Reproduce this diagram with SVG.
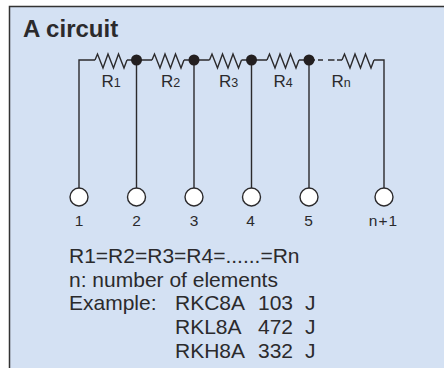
<svg xmlns="http://www.w3.org/2000/svg" width="444" height="368" viewBox="0 0 444 368">
<style>
text{font-family:"Liberation Sans",Arial,sans-serif;fill:#2b2a2c}
.w{fill:none;stroke:#2b2a2c;stroke-width:1.4}
.d{fill:#231f20}
.t{fill:#fff;stroke:#2b2a2c;stroke-width:1.4}
.l{font-size:17px}
.s{font-size:12.5px}
.n{font-size:15.5px;text-anchor:middle}
.b{font-size:21px}
</style>
<defs>
<path id="zig" class="w" d="M0 0L2.500 -6L8 8L13 -6L18.500 8L23.500 -6L29 8L32 0"/>
</defs>
<rect id="panel" x="9.500" y="6.500" width="436" height="363" fill="#d4e1f3" stroke="#333" stroke-width="1.500"/>
<text id="title" x="23" y="37" font-size="24" font-weight="bold">A circuit</text>
<g id="connectors">
<path class="w" d="M79 188V60H95M127 60H152M184 60H209.500M241.500 60H267M299 60H315M318 60H323M328 60H334.500M337 60H342M374 60H384V188"/>
<path class="w" d="M136.500 60V188M194 60V188M251.500 60V188M309 60V188"/>
<use href="#zig" x="95" y="60"/>
<use href="#zig" x="152" y="60"/>
<use href="#zig" x="209.500" y="60"/>
<use href="#zig" x="267" y="60"/>
<use href="#zig" x="342" y="60"/>
</g>
<g id="j2"><circle class="d" cx="136.500" cy="60" r="5.500"/></g>
<g id="j3"><circle class="d" cx="194" cy="60" r="5.500"/></g>
<g id="j4"><circle class="d" cx="251.500" cy="60" r="5.500"/></g>
<g id="j5"><circle class="d" cx="309" cy="60" r="5.500"/></g>
<g id="r1"><text class="l" x="101.500" y="87">R<tspan class="s">1</tspan></text></g>
<g id="r2"><text class="l" x="161" y="87">R<tspan class="s">2</tspan></text></g>
<g id="r3"><text class="l" x="219" y="87">R<tspan class="s">3</tspan></text></g>
<g id="r4"><text class="l" x="273.500" y="87">R<tspan class="s">4</tspan></text></g>
<g id="rn"><text class="l" x="331.500" y="87">R<tspan class="s">n</tspan></text></g>
<g id="t1"><circle class="t" cx="79" cy="197" r="9"/><text class="n" x="79" y="226">1</text></g>
<g id="t2"><circle class="t" cx="136.500" cy="197" r="9"/><text class="n" x="136.500" y="226">2</text></g>
<g id="t3"><circle class="t" cx="194" cy="197" r="9"/><text class="n" x="194" y="226">3</text></g>
<g id="t4"><circle class="t" cx="251.500" cy="197" r="9"/><text class="n" x="250.500" y="226">4</text></g>
<g id="t5"><circle class="t" cx="309" cy="197" r="9"/><text class="n" x="308.500" y="226">5</text></g>
<g id="tn"><circle class="t" cx="384" cy="197" r="9"/><text class="n" x="383.500" y="226" letter-spacing="1">n+1</text></g>
<g id="notes">
<text class="b" x="69" y="263">R1=R2=R3=R4=......=Rn</text>
<text class="b" x="69" y="287">n: number of elements</text>
<text class="b" x="69" y="310">Example:</text>
<text class="b" x="175" y="310">RKC8A</text><text class="b" x="258" y="310">103</text><text class="b" x="305" y="310">J</text>
<text class="b" x="175" y="334">RKL8A</text><text class="b" x="258" y="334">472</text><text class="b" x="305" y="334">J</text>
<text class="b" x="175" y="358">RKH8A</text><text class="b" x="258" y="358">332</text><text class="b" x="305" y="358">J</text>
</g>
</svg>
